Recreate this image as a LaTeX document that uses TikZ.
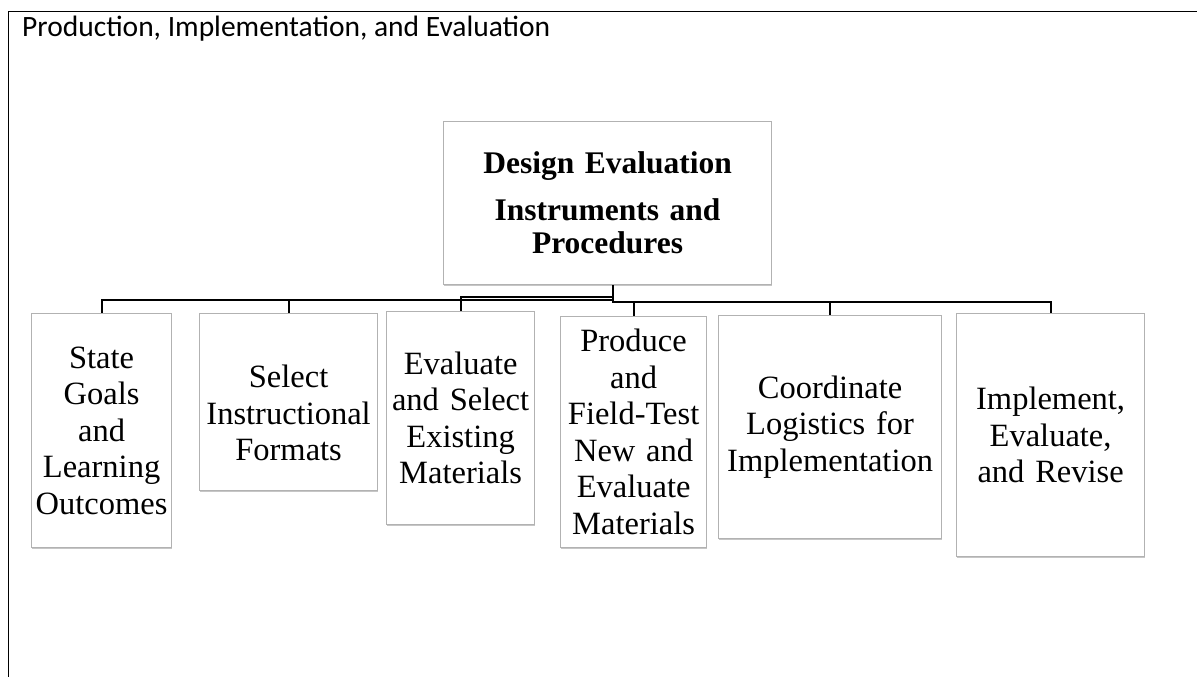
\documentclass[tikz,border=0pt]{standalone}
\usepackage{fontspec}
\setmainfont{Liberation Serif}
\newfontfamily\headfont{Carlito}
\usetikzlibrary{shadows}
\begin{document}
\begin{tikzpicture}[x=1pt,y=-1pt,
  framerule/.style={line width=1.8pt, black},
  boxtext/.style={align=center, inner sep=0pt, font=\fontsize{32.5}{36.5}\selectfont},
  stepbox/.style={draw=gray!60, line width=1.2pt, fill=white, anchor=north west,
    inner sep=2pt, boxtext,
    drop shadow={shadow xshift=0.8pt, shadow yshift=-1.4pt, fill=gray!45, opacity=1}},
  link/.style={line width=2pt, black}
]
\useasboundingbox (0,0) rectangle (1197,677);

% outer frame (left and top rules only)
\draw[framerule] (8.5,677) -- (8.5,11.5) -- (1197,11.5);

% heading
\node[anchor=base west, inner sep=0pt, font=\headfont\fontsize{29.5}{32}\selectfont]
  (heading) at (22,37) {Production, Implementation, and Evaluation};

% root box
\node[stepbox, minimum width=328, minimum height=163, text width=324,
  font=\fontsize{31.5}{33}\selectfont\bfseries]
  (root) at (443,121) {Design Evaluation\\[14pt]Instruments and\\Procedures};

% child boxes
\node[stepbox, minimum width=140, minimum height=234, text width=136]
  (c1) at (31,313) {State\\Goals\\and\\Learning\\Outcomes};
\node[stepbox, minimum width=178, minimum height=177] (c2) at (199,313) {};
\node[boxtext] (c2text) at ([yshift=-11pt]c2.center) {Select\\Instructional\\Formats};
\node[stepbox, minimum width=148, minimum height=213, text width=144]
  (c3) at (386,311) {Evaluate\\and Select\\Existing\\Materials};
\node[stepbox, minimum width=146, minimum height=231, text width=142]
  (c4) at (560,316) {Produce\\and\\Field-Test\\New and\\Evaluate\\Materials};
\node[stepbox, minimum width=223, minimum height=223, text width=219]
  (c5) at (718,315) {Coordinate\\Logistics for\\Implementation};
\node[stepbox, minimum width=188, minimum height=243, text width=184]
  (c6) at (956,313) {Implement,\\Evaluate,\\and Revise};

% connectors
\coordinate (hub) at ([xshift=5pt]root.south);
\draw[link] (hub) -- ++(0,15) -| (c1.north);
\draw[link] (hub) -- ++(0,15) -| (c2.north);
\draw[link] (hub) -- ++(0,11.5) -| (c3.north);
\draw[link] (hub) -- ++(0,16.5) -| (c4.north);
\draw[link] (hub) -- ++(0,16.5) -| (c5.north);
\draw[link] (hub) -- ++(0,16.5) -| (c6.north);
\end{tikzpicture}
\end{document}
